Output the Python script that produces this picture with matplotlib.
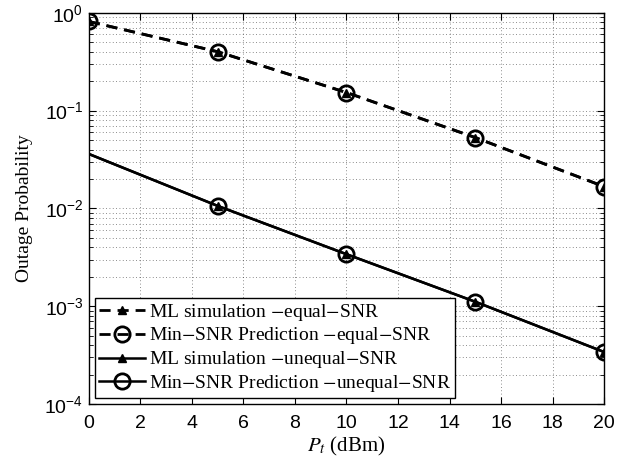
import numpy as np
import matplotlib
matplotlib.use('Agg')
import matplotlib.pyplot as plt
from matplotlib.ticker import LogLocator, NullFormatter

pt_dbm = [0, 5, 10, 15, 20]
ml_equal = [0.815, 0.40, 0.153, 0.053, 0.0167]
pred_equal = [0.815, 0.40, 0.153, 0.053, 0.0167]
ml_unequal = [0.036, 0.0106, 0.0034, 0.00111, 0.00034]
pred_unequal = [0.036, 0.0106, 0.0034, 0.00111, 0.00034]

plt.rcParams['mathtext.fontset'] = 'stix'

fig = plt.figure(figsize=(6.26, 4.57), dpi=100)
ax = fig.add_axes([0.142, 0.116, 0.823, 0.856])

ax.plot(pt_dbm, ml_equal, '--', color='black', lw=2, marker='^', ms=5.5,
        mfc='black', mec='black', dashes=(4, 2.5), label='ML simulation $-$equal$-$SNR')
ax.plot(pt_dbm, pred_equal, '--', color='black', lw=2, marker='o', ms=11,
        mfc='none', mec='black', mew=2, dashes=(4, 2.5),
        label='Min$-$SNR Prediction $-$equal$-$SNR')
ax.plot(pt_dbm, ml_unequal, '-', color='black', lw=1.8, marker='^', ms=5.5,
        mfc='black', mec='black', markevery=[1, 2, 3, 4], label='ML simulation $-$unequal$-$SNR')
ax.plot(pt_dbm, pred_unequal, '-', color='black', lw=1.8, marker='o', ms=11,
        mfc='none', mec='black', mew=2, markevery=[1, 2, 3, 4],
        label='Min$-$SNR Prediction $-$unequal$-$SNR')

ax.set_yscale('log')
ax.set_xlim(0, 20)
ax.set_ylim(1e-4, 1)
ax.set_xticks(np.arange(0, 21, 2))
ax.yaxis.set_minor_locator(LogLocator(base=10, subs=np.arange(2, 10)))
ax.yaxis.set_minor_formatter(NullFormatter())

ax.grid(True, which='major', linestyle=(0, (1, 3)), color='black', lw=0.6, alpha=0.6)
ax.grid(True, which='minor', axis='y', linestyle=(0, (1, 3)), color='black', lw=0.6, alpha=0.6)
ax.tick_params(which='both', direction='in', top=True, right=True)
ax.tick_params(which='major', length=5, labelsize=14)
ax.tick_params(axis='x', which='major', pad=8)
ax.tick_params(axis='y', which='major', pad=4)
ax.tick_params(which='minor', length=3)
for lab in ax.get_xticklabels() + ax.get_yticklabels():
    lab.set_family('Liberation Sans')
for s in ax.spines.values():
    s.set_linewidth(1)

ax.set_xlabel('$P_t$ (dBm)', family='Liberation Serif', fontsize=15, labelpad=2)
ax.set_ylabel('Outage Probability', family='Liberation Serif', fontsize=14, labelpad=8)

leg = ax.legend(loc='lower left', prop={'family': 'Liberation Serif', 'size': 14},
                fancybox=False, edgecolor='black', framealpha=1, handlelength=2.4,
                handletextpad=0.2, borderpad=0.2, labelspacing=0.15,
                borderaxespad=0.3)
leg.get_frame().set_linewidth(1)

fig.savefig('out.png', dpi=100)
